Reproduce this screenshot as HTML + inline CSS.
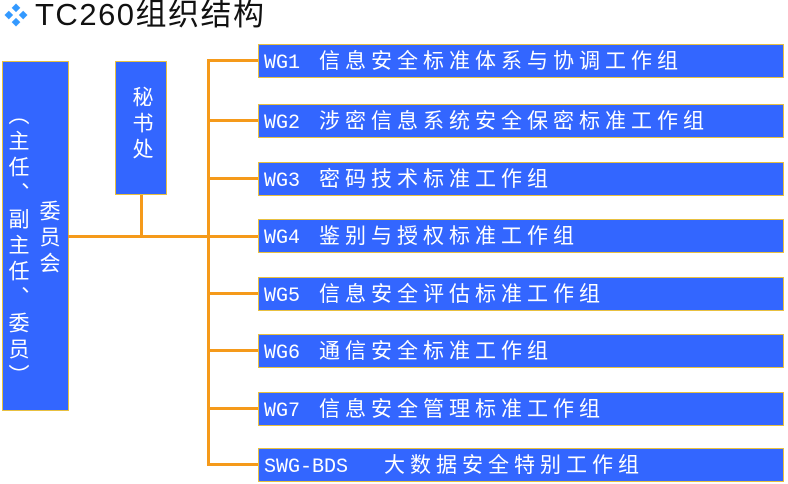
<!DOCTYPE html>
<html><head><meta charset="utf-8"><style>
body{margin:0;width:788px;height:484px;background:#fff;position:relative;overflow:hidden;font-family:"Liberation Sans","Noto Sans CJK SC",sans-serif}
.b{position:absolute;background:#3366ff;border:1px solid #e8c040;box-sizing:border-box;color:#fff}
.l{position:absolute;background:#f59a1a}
.wg{left:258px;width:526px;height:34px;font-size:21px;line-height:31px;white-space:nowrap}
.wg span.c{font-family:"Liberation Mono",monospace;font-size:20px;margin-left:5px;display:inline-block;width:55px}
.wg span.t{font-family:"Noto Sans CJK SC",sans-serif;letter-spacing:5px}
.v{position:absolute;writing-mode:vertical-rl;font-family:"Noto Sans CJK SC",sans-serif;font-size:21px;color:#fff;letter-spacing:5px}
</style></head><body>
<div style="position:absolute;left:4px;top:4px;font-size:24px;color:#3399ff;line-height:26px">❖</div>
<div style="position:absolute;left:35px;top:-5px;font-size:31px;line-height:40px;color:#111;letter-spacing:1.5px;font-family:'Liberation Sans','Noto Sans CJK SC',sans-serif">TC260组织结构</div>

<div class="b" style="left:2px;top:61px;width:67px;height:350px"></div>
<div class="v" style="left:4px;top:104px;">（主任、副主任、委员）</div>
<div class="v" style="left:35px;top:200px;">委员会</div>

<div class="b" style="left:115px;top:61px;width:52px;height:134px"></div>
<div class="v" style="left:128px;top:86px;">秘书处</div>

<div class="l" style="left:140px;top:195px;width:3px;height:42px"></div>
<div class="l" style="left:68px;top:235px;width:142px;height:3px"></div>
<div class="l" style="left:207px;top:59px;width:3px;height:406px"></div>

<div class="l" style="left:207px;top:59px;width:52px;height:3px"></div>
<div class="l" style="left:207px;top:119px;width:52px;height:3px"></div>
<div class="l" style="left:207px;top:177px;width:52px;height:3px"></div>
<div class="l" style="left:207px;top:235px;width:52px;height:3px"></div>
<div class="l" style="left:207px;top:292px;width:52px;height:3px"></div>
<div class="l" style="left:207px;top:349px;width:52px;height:3px"></div>
<div class="l" style="left:207px;top:407px;width:52px;height:3px"></div>
<div class="l" style="left:207px;top:463px;width:52px;height:3px"></div>

<div class="b wg" style="top:44px"><span class="c">WG1</span><span class="t">信息安全标准体系与协调工作组</span></div>
<div class="b wg" style="top:104px"><span class="c">WG2</span><span class="t">涉密信息系统安全保密标准工作组</span></div>
<div class="b wg" style="top:162px"><span class="c">WG3</span><span class="t">密码技术标准工作组</span></div>
<div class="b wg" style="top:219px"><span class="c">WG4</span><span class="t">鉴别与授权标准工作组</span></div>
<div class="b wg" style="top:277px"><span class="c">WG5</span><span class="t">信息安全评估标准工作组</span></div>
<div class="b wg" style="top:334px"><span class="c">WG6</span><span class="t">通信安全标准工作组</span></div>
<div class="b wg" style="top:392px"><span class="c">WG7</span><span class="t">信息安全管理标准工作组</span></div>
<div class="b wg" style="top:448px"><span class="c" style="width:120px">SWG-BDS</span><span class="t">大数据安全特别工作组</span></div>
</body></html>
